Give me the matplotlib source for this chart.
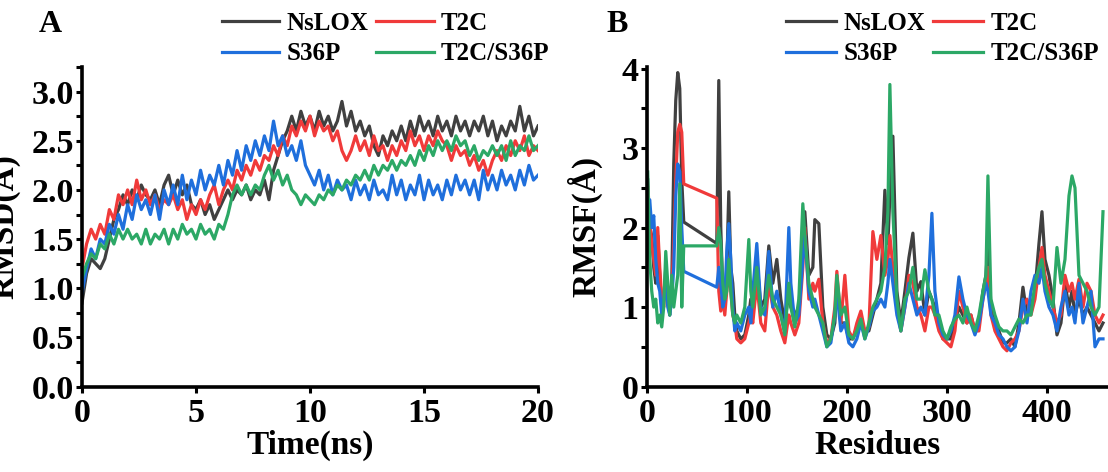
import numpy as np
import matplotlib
matplotlib.use("Agg")
from matplotlib import pyplot as plt
from matplotlib.ticker import MultipleLocator

plt.rcParams['font.family'] = ['Liberation Serif', 'DejaVu Serif']
plt.rcParams['font.weight'] = 'bold'

names = ['NsLOX', 'T2C', 'S36P', 'T2C/S36P']
colors = ['#404040', '#f03a3a', '#1f6fdc', '#2ca866']

# Panel A - RMSD over time, one point every 0.2 ns
time_ns = np.round(np.arange(0, 20.01, 0.2), 1)

rmsd_nslox = [0.85, 1.15, 1.30, 1.25, 1.20, 1.30, 1.50, 1.70, 1.80, 1.95,
              1.85, 2.00, 1.90, 2.05, 1.95, 1.90, 2.00, 1.85, 2.05, 2.15,
              1.95, 2.10, 1.95, 2.05, 1.85, 1.80, 1.90, 1.75, 1.85, 1.70,
              1.80, 1.90, 2.00, 1.90, 2.00, 1.95, 2.05, 1.90, 2.00, 1.95,
              2.10, 1.90, 2.20, 2.35, 2.50, 2.60, 2.75, 2.60, 2.80, 2.65,
              2.75, 2.60, 2.80, 2.65, 2.75, 2.60, 2.70, 2.90, 2.65, 2.80,
              2.60, 2.70, 2.55, 2.65, 2.45, 2.35, 2.55, 2.45, 2.60, 2.50,
              2.65, 2.50, 2.70, 2.55, 2.75, 2.60, 2.70, 2.55, 2.75, 2.60,
              2.70, 2.55, 2.75, 2.60, 2.70, 2.55, 2.70, 2.60, 2.75, 2.55,
              2.70, 2.50, 2.65, 2.55, 2.70, 2.60, 2.85, 2.60, 2.75, 2.55,
              2.65]
rmsd_t2c = [1.20, 1.45, 1.60, 1.50, 1.65, 1.55, 1.80, 1.70, 1.95, 1.85,
            2.00, 1.85, 2.10, 1.90, 2.00, 1.85, 1.95, 1.80, 1.90, 1.85,
            1.95, 1.80, 1.90, 1.70, 1.85, 1.75, 1.90, 1.80, 1.95, 2.05,
            1.85, 2.00, 2.10, 2.00, 2.20, 2.10, 2.25, 2.15, 2.30, 2.20,
            2.35, 2.30, 2.45, 2.35, 2.55, 2.45, 2.65, 2.55, 2.70, 2.60,
            2.75, 2.55, 2.70, 2.60, 2.65, 2.50, 2.60, 2.40, 2.30, 2.40,
            2.55, 2.40, 2.50, 2.35, 2.55, 2.40, 2.45, 2.30, 2.45, 2.35,
            2.50, 2.40, 2.60, 2.45, 2.55, 2.40, 2.55, 2.45, 2.60, 2.50,
            2.45, 2.30, 2.45, 2.35, 2.40, 2.25, 2.35, 2.20, 2.30, 2.15,
            2.30, 2.40, 2.30, 2.45, 2.35, 2.50, 2.40, 2.55, 2.35, 2.45,
            2.40]
rmsd_s36p = [0.95, 1.20, 1.40, 1.30, 1.50, 1.45, 1.65, 1.55, 1.75, 1.60,
             1.85, 1.70, 1.95, 1.80, 1.90, 1.75, 1.95, 1.70, 2.00, 1.85,
             2.05, 1.85, 2.15, 1.90, 2.10, 1.95, 2.20, 2.00, 2.15, 2.05,
             2.25, 2.05, 2.30, 2.15, 2.40, 2.20, 2.45, 2.30, 2.50, 2.35,
             2.55, 2.40, 2.70, 2.45, 2.55, 2.35, 2.45, 2.30, 2.50, 2.25,
             2.15, 2.05, 2.20, 2.00, 2.15, 1.95, 2.10, 2.00, 2.05, 1.90,
             2.10, 1.95, 2.05, 1.90, 2.10, 1.95, 2.00, 1.90, 2.15, 1.95,
             2.10, 1.90, 2.05, 1.95, 2.15, 1.90, 2.10, 1.95, 2.05, 1.90,
             2.10, 1.95, 2.15, 2.00, 2.10, 1.95, 2.10, 1.90, 2.20, 2.00,
             2.15, 2.00, 2.20, 2.05, 2.15, 2.00, 2.20, 2.05, 2.25, 2.10,
             2.15]
rmsd_double = [1.10, 1.25, 1.35, 1.30, 1.45, 1.40, 1.55, 1.45, 1.60, 1.50,
               1.60, 1.50, 1.55, 1.45, 1.60, 1.45, 1.55, 1.50, 1.60, 1.45,
               1.60, 1.50, 1.65, 1.55, 1.60, 1.50, 1.65, 1.55, 1.60, 1.50,
               1.65, 1.60, 1.75, 1.95, 2.05, 1.95, 2.05, 1.95, 2.05, 2.00,
               2.15, 2.25, 2.10, 2.20, 2.05, 2.15, 2.00, 1.95, 1.85, 1.95,
               1.90, 1.85, 1.95, 1.90, 2.00, 1.95, 2.05, 2.00, 2.10, 2.05,
               2.15, 2.10, 2.20, 2.10, 2.25, 2.15, 2.25, 2.20, 2.30, 2.20,
               2.30, 2.25, 2.35, 2.25, 2.40, 2.30, 2.45, 2.35, 2.50, 2.40,
               2.50, 2.40, 2.55, 2.45, 2.50, 2.35, 2.45, 2.30, 2.40, 2.35,
               2.45, 2.35, 2.45, 2.30, 2.50, 2.35, 2.45, 2.40, 2.55, 2.40,
               2.45]

# Panel B - RMSF per residue (residues 38-69 are missing, hence the straight jump)
residues = [1, 3, 5, 7, 9, 11, 13, 15, 17, 19,
            21, 23, 25, 27, 29, 31, 33, 35, 37,
            70, 72, 74, 76, 78, 80, 82, 84, 86, 88,
            90, 94, 98, 102, 104, 106, 110, 114, 118, 122,
            126, 130, 134, 138, 142, 144, 148, 152, 156, 158,
            162, 166, 168, 172, 176, 180, 184, 188, 190, 194,
            198, 202, 206, 210, 214, 218, 222, 226, 230, 234,
            238, 241, 243, 246, 250, 254, 258, 262, 266, 270,
            274, 278, 282, 285, 288, 292, 296, 300, 304, 308,
            312, 316, 320, 324, 328, 332, 336, 339, 341, 344,
            348, 352, 356, 360, 364, 368, 372, 376, 380, 384,
            388, 392, 395, 398, 402, 406, 410, 414, 418, 422,
            425, 428, 432, 436, 440, 444, 448, 452, 456]

rmsf_nslox = [2.60, 2.00, 1.90, 1.50, 1.30, 1.90, 1.40, 1.00, 1.10, 1.50,
              1.20, 0.90, 1.30, 2.80, 3.60, 3.95, 3.75, 2.60, 2.07,
              1.80, 3.85, 2.00, 1.20, 1.00, 1.50, 2.45, 1.50, 1.30, 0.90,
              0.70, 0.60, 0.65, 0.90, 1.10, 0.90, 1.60, 1.00, 1.10, 1.77,
              1.30, 1.60, 1.10, 0.80, 1.20, 1.00, 0.90, 1.00, 1.80, 2.20,
              1.40, 1.50, 2.10, 2.05, 1.00, 0.65, 0.60, 0.80, 1.30, 0.80,
              0.80, 0.60, 0.60, 0.75, 0.80, 0.70, 0.70, 0.90, 1.10, 1.30,
              2.47, 1.80, 2.40, 3.15, 1.20, 0.80, 1.20, 1.62, 1.93, 1.20,
              1.32, 0.90, 1.20, 1.10, 1.00, 0.80, 0.60, 0.60, 0.60, 0.80,
              1.00, 0.90, 0.80, 0.90, 0.70, 0.80, 1.20, 1.40, 1.80, 1.00,
              0.80, 0.70, 0.55, 0.55, 0.60, 0.50, 0.80, 1.25, 0.90, 1.00,
              1.20, 1.80, 2.20, 1.60, 1.40, 1.10, 0.65, 0.80, 1.30, 1.00,
              1.20, 0.90, 1.10, 0.90, 1.00, 0.90, 0.80, 0.70, 0.80]
rmsf_t2c = [2.50, 2.10, 1.80, 1.60, 1.40, 2.00, 1.50, 1.10, 1.00, 1.40,
            1.10, 1.00, 1.20, 1.80, 2.60, 3.20, 3.30, 3.20, 2.55,
            2.37, 1.20, 0.95, 1.10, 0.90, 1.20, 1.50, 1.20, 0.90, 0.80,
            0.60, 0.55, 0.60, 0.80, 0.90, 0.80, 1.30, 0.80, 0.70, 1.30,
            1.00, 0.90, 0.70, 0.55, 0.90, 0.80, 0.65, 0.80, 1.50, 2.00,
            1.10, 1.30, 1.20, 1.35, 0.80, 0.55, 0.60, 1.00, 1.45, 0.80,
            1.40, 0.70, 0.60, 0.80, 0.95, 0.70, 0.75, 1.95, 1.60, 1.90,
            1.40, 1.60, 1.90, 1.50, 1.00, 0.70, 1.00, 1.40, 1.30, 1.00,
            0.90, 0.70, 1.00, 1.00, 0.90, 0.70, 0.60, 0.55, 0.50, 0.70,
            1.20, 1.00, 0.80, 0.90, 0.70, 0.70, 1.10, 1.30, 1.50, 0.90,
            0.70, 0.60, 0.50, 0.45, 0.55, 0.60, 0.70, 1.00, 1.10, 0.90,
            1.10, 1.50, 1.75, 1.40, 1.20, 1.00, 0.80, 0.90, 1.40, 1.20,
            1.30, 1.10, 1.35, 1.00, 1.30, 1.20, 0.90, 0.80, 0.90]
rmsf_s36p = [2.30, 2.35, 2.00, 2.15, 1.60, 1.30, 1.20, 0.90, 1.10, 1.30,
             1.00, 0.90, 1.10, 1.50, 2.40, 2.80, 2.70, 2.00, 1.45,
             1.25, 1.50, 1.30, 1.00, 1.10, 1.70, 2.05, 1.60, 1.00, 0.70,
             0.80, 0.70, 0.90, 1.00, 0.80, 1.20, 1.80, 1.00, 0.90, 1.70,
             1.00, 1.20, 0.90, 0.70, 2.00, 1.30, 0.80, 0.90, 1.60, 1.90,
             1.20, 1.00, 1.10, 0.90, 0.70, 0.50, 0.55, 0.90, 1.20, 0.70,
             0.80, 0.55, 0.50, 0.60, 0.80, 0.60, 0.75, 0.95, 1.00, 1.10,
             1.00, 1.30, 1.60, 1.30, 0.90, 0.70, 1.00, 1.30, 1.10, 0.90,
             1.00, 0.90, 1.40, 2.18, 1.20, 0.80, 0.65, 0.60, 0.70, 0.90,
             1.38, 1.10, 0.90, 0.80, 0.65, 0.80, 1.10, 1.30, 1.20, 0.90,
             0.80, 0.65, 0.60, 0.50, 0.45, 0.50, 0.70, 1.10, 0.80, 1.20,
             1.40, 1.30, 1.50, 1.20, 1.00, 0.90, 0.70, 1.00, 1.20, 0.90,
             1.00, 0.80, 1.30, 0.80, 1.00, 1.20, 0.50, 0.60, 0.60]
rmsf_double = [2.70, 1.60, 1.20, 1.00, 1.10, 0.80, 0.90, 0.75, 1.00, 1.70,
               1.30, 0.90, 1.40, 1.00, 1.20, 1.40, 2.55, 1.00, 1.77,
               1.77, 2.00, 1.80, 1.30, 1.10, 1.20, 1.60, 1.20, 0.90, 0.80,
               0.90, 0.80, 1.00, 1.85, 1.20, 1.00, 1.50, 0.90, 1.00, 1.40,
               1.10, 1.00, 0.90, 0.65, 1.30, 1.00, 0.75, 1.10, 2.30, 1.90,
               1.30, 1.10, 1.00, 0.90, 0.80, 0.50, 0.60, 0.90, 1.40, 0.90,
               1.00, 0.65, 0.60, 0.70, 0.85, 0.60, 0.80, 1.00, 1.10, 1.20,
               1.50, 2.20, 3.80, 2.20, 1.10, 0.70, 1.10, 1.20, 1.50, 1.10,
               1.10, 1.47, 1.20, 1.10, 0.90, 0.90, 0.70, 0.60, 0.75, 0.85,
               0.90, 0.80, 1.00, 0.80, 0.70, 0.90, 1.20, 1.40, 2.65, 1.10,
               0.90, 0.75, 0.70, 0.70, 0.65, 0.75, 0.85, 0.80, 0.90, 0.90,
               1.30, 1.50, 1.60, 1.30, 1.10, 1.00, 1.75, 1.30, 1.60, 2.40,
               2.65, 2.50, 1.40, 1.30, 1.20, 1.00, 0.90, 1.00, 2.20]

rmsd_all = [rmsd_nslox, rmsd_t2c, rmsd_s36p, rmsd_double]
rmsf_all = [rmsf_nslox, rmsf_t2c, rmsf_s36p, rmsf_double]

fig = plt.figure(figsize=(11.08, 4.72), dpi=100)
axA = fig.add_axes([0.074, 0.181, 0.4116, 0.677])
axB = fig.add_axes([0.5837, 0.181, 0.4163, 0.677])

for name, col, y in zip(names, colors, rmsd_all):
    axA.plot(time_ns, y, color=col, lw=2.3, label=name)
for name, col, y in zip(names, colors, rmsf_all):
    axB.plot(residues, y, color=col, lw=2.3, label=name)

axA.set_xlim(0, 20)
axA.set_ylim(0, 3.25)
axA.set_xticks([0, 5, 10, 15, 20])
axA.set_yticks([0.0, 0.5, 1.0, 1.5, 2.0, 2.5, 3.0])
axA.yaxis.set_minor_locator(MultipleLocator(0.25))
axA.yaxis.set_major_formatter(matplotlib.ticker.FormatStrFormatter('%.1f'))

axB.set_xlim(0, 461)
axB.set_ylim(0, 4.02)
axB.set_xticks([0, 100, 200, 300, 400])
axB.set_yticks([0, 1, 2, 3, 4])
axB.yaxis.set_minor_locator(MultipleLocator(0.5))

for ax in (axA, axB):
    for side in ('top', 'right'):
        ax.spines[side].set_visible(False)
    for side in ('left', 'bottom'):
        ax.spines[side].set_linewidth(2.6)
        ax.spines[side].set_capstyle('projecting')
    ax.tick_params(which='major', direction='out', length=4, width=2.2,
                   labelsize=24.5, pad=2)
    ax.tick_params(axis='x', which='major', pad=4)
    ax.tick_params(which='minor', direction='out', length=4, width=2.2)

axA.set_xlabel('Time(ns)', fontsize=24, fontweight='bold')
axA.set_ylabel('RMSD(Å)', fontsize=24, fontweight='bold')
axA.yaxis.set_label_coords(-0.134, 0.5)
axA.xaxis.set_label_coords(0.5, -0.135)

axB.set_xlabel('Residues', fontsize=24, fontweight='bold')
axB.set_ylabel('RMSF(Å)', fontsize=24, fontweight='bold')
axB.yaxis.set_label_coords(-0.095, 0.5)
axB.xaxis.set_label_coords(0.5, -0.135)

# legends: rows NsLOX/T2C and S36P/T2C-S36P
order = [0, 2, 1, 3]
for ax, x0, hl in ((axA, 221.7, 2.3), (axB, 786, 2.0)):
    h, l = ax.get_legend_handles_labels()
    ax.legend([h[i] for i in order], [l[i] for i in order], ncol=2,
              loc='upper left', bbox_to_anchor=(x0 / 1108, 1 - 12 / 472),
              bbox_transform=fig.transFigure, frameon=False, borderpad=0,
              borderaxespad=0, handlelength=hl, handletextpad=0.3,
              columnspacing=0.3, labelspacing=0.3,
              prop={'size': 18, 'weight': 'bold'})

fig.text(50 / 1108, 1 - 25 / 472, 'A', fontsize=23, fontweight='bold',
         ha='center', va='center')
fig.text(617 / 1108, 1 - 25 / 472, 'B', fontsize=23, fontweight='bold',
         ha='center', va='center')

fig.savefig('out.png', dpi=100)
